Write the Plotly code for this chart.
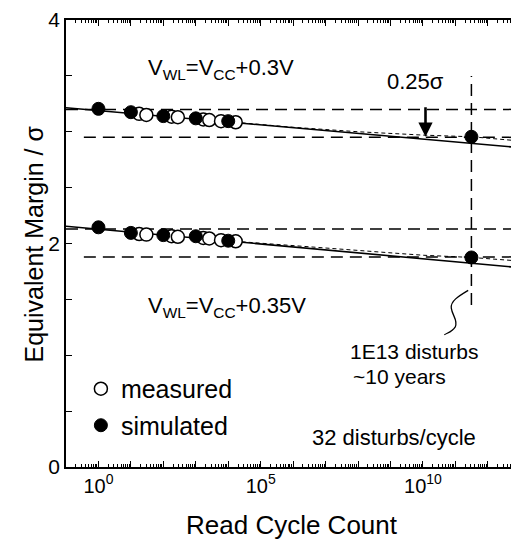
import numpy as np
import plotly.graph_objects as go

# ---------------- data ----------------
sim_x = [1, 10, 100, 1000, 10000]
sim_top = [3.205, 3.175, 3.14, 3.12, 3.095]
sim_bot = [2.145, 2.095, 2.075, 2.065, 2.025]

meas_x = [18, 30, 180, 280, 1700, 2600, 6000, 17000]
meas_top = [3.16, 3.15, 3.135, 3.13, 3.11, 3.105, 3.095, 3.085]
meas_bot = [2.085, 2.08, 2.065, 2.06, 2.05, 2.045, 2.03, 2.02]

ten_year_x = [3.125e11]
ten_year_top = [2.955]
ten_year_bot = [1.875]

fit_x = [0.1, 10**12.9]
fit_top = [3.215, 2.86]
fit_bot = [2.155, 1.786]

curve_x = [10**4.2, 1e6, 1e8, 1e10, 10**11.5, 10**12.9]
curve_top = [3.085, 3.04, 3.0, 2.97, 2.955, 2.92]
curve_bot = [2.02, 1.98, 1.935, 1.895, 1.875, 1.845]

ref_hi = [3.2, 2.13]
ref_lo = [2.95, 1.88]
ref_hi_x = [0.1, 10**12.9]
ref_lo_x = [10**-0.45, 10**12.9]
vline_y = [1.45, 3.5]

x_major = [10**k for k in range(-1, 13)]
x_labels = {0: "10<sup>0</sup>", 5: "10<sup>5</sup>", 10: "10<sup>10</sup>"}
y_ticks = [i * 0.5 for i in range(9)]
y_labels = {0: "0", 2: "2", 4: "4"}

FONT = "Liberation Sans, Arial, Helvetica, sans-serif"

fig = go.Figure()

dash_long = "12px,7px"
for yv in ref_hi:
    fig.add_trace(go.Scatter(x=ref_hi_x, y=[yv, yv], mode="lines",
                             line=dict(color="black", width=1.5, dash=dash_long),
                             showlegend=False, hoverinfo="skip"))
for yv in ref_lo:
    fig.add_trace(go.Scatter(x=ref_lo_x, y=[yv, yv], mode="lines",
                             line=dict(color="black", width=1.5, dash=dash_long),
                             showlegend=False, hoverinfo="skip"))
fig.add_trace(go.Scatter(x=ten_year_x * 2, y=vline_y, mode="lines",
                         line=dict(color="black", width=1.5, dash=dash_long),
                         showlegend=False, hoverinfo="skip"))

for fy in (fit_top, fit_bot):
    fig.add_trace(go.Scatter(x=fit_x, y=fy, mode="lines",
                             line=dict(color="black", width=1.6),
                             showlegend=False, hoverinfo="skip"))
for cy in (curve_top, curve_bot):
    fig.add_trace(go.Scatter(x=curve_x, y=cy, mode="lines",
                             line=dict(color="black", width=1, dash="4px,3px"),
                             showlegend=False, hoverinfo="skip"))

fig.add_trace(go.Scatter(x=meas_x, y=meas_top, mode="markers", name="measured",
                         marker=dict(size=13, color="white", line=dict(color="black", width=1.5)),
                         legendgroup="m"))
fig.add_trace(go.Scatter(x=meas_x, y=meas_bot, mode="markers", name="measured",
                         marker=dict(size=13, color="white", line=dict(color="black", width=1.5)),
                         legendgroup="m", showlegend=False))
fig.add_trace(go.Scatter(x=sim_x + ten_year_x, y=sim_top + ten_year_top, mode="markers",
                         name="simulated",
                         marker=dict(size=13, color="black", line=dict(color="black", width=1)),
                         legendgroup="s"))
fig.add_trace(go.Scatter(x=sim_x + ten_year_x, y=sim_bot + ten_year_bot, mode="markers",
                         name="simulated",
                         marker=dict(size=13, color="black", line=dict(color="black", width=1)),
                         legendgroup="s", showlegend=False))

ann = []
def txt(x, y, text, size, xanchor="center", xref="x", yref="y", angle=0):
    ann.append(dict(x=x, y=y, xref=xref, yref=yref, text=text, showarrow=False,
                    xanchor=xanchor, yanchor="middle", textangle=angle, borderpad=0,
                    font=dict(family=FONT, size=size, color="black")))

txt(3.79, 3.565, "V<sub>WL</sub>=V<sub>CC</sub>+0.3V", 22)
txt(3.97, 1.43, "V<sub>WL</sub>=V<sub>CC</sub>+0.35V", 22)
txt(9.78, 3.45, "0.25σ", 22)
txt(7.72, 1.035, "1E13 disturbs", 21, xanchor="left")
txt(7.8, 0.81, "~10 years", 21, xanchor="left")
txt(9.1, 0.265, "32 disturbs/cycle", 22)
txt(0.5, -0.13, "Read Cycle Count", 26, xref="paper", yref="paper")
txt(-0.071, 0.5, "Equivalent Margin / σ", 25, xref="paper", yref="paper", angle=-90)

ann.append(dict(x=10.08, y=2.955, xref="x", yref="y", ax=0, ay=-31, showarrow=True,
                arrowhead=2, arrowsize=1.1, arrowwidth=2.6, arrowcolor="black",
                standoff=0, text=""))

fig.update_layout(annotations=ann)

fig.add_shape(type="path", xref="paper", yref="paper",
              path=("M 0.8918 0.3951 C 0.8698 0.3819 0.8521 0.3709 0.8543 0.3554 "
                    "C 0.8565 0.3377 0.8698 0.3289 0.8631 0.3135 "
                    "C 0.8565 0.3024 0.8455 0.3002 0.8389 0.2958"),
              line=dict(color="black", width=1.3))

fig.update_xaxes(type="log", range=[-1, 12.9], showgrid=False, zeroline=False,
                 showline=True, linecolor="black", linewidth=1.5, mirror="ticks",
                 ticks="inside", ticklen=6, tickwidth=1.2, tickcolor="black",
                 tickmode="array", tickvals=x_major,
                 ticktext=[x_labels.get(k, "") for k in range(-1, 13)],
                 tickfont=dict(family=FONT, size=20, color="black"),
                 minor=dict(ticks="inside", ticklen=3, tickwidth=1, tickcolor="black",
                            tickmode="array",
                            tickvals=[m * 10**k for k in range(-1, 13) for m in range(2, 10)]))
fig.update_yaxes(range=[0, 4], showgrid=False, zeroline=False,
                 showline=True, linecolor="black", linewidth=1.5, mirror="ticks",
                 ticks="inside", ticklen=6, tickwidth=1.2, tickcolor="black",
                 tickmode="array", tickvals=y_ticks, ticklabeloverflow="allow",
                 ticktext=[y_labels.get(v, "") if float(v).is_integer() else "" for v in y_ticks],
                 tickfont=dict(family=FONT, size=21, color="black"))

# the page body adds an 8px offset, so the figure is 8px smaller than the window
fig.update_layout(width=511, height=537,
                  margin=dict(l=58, r=0, t=6, b=78),
                  paper_bgcolor="white", plot_bgcolor="white",
                  font=dict(family=FONT, color="black"),
                  showlegend=True,
                  legend=dict(x=0.033, y=0.226, xanchor="left", yanchor="top",
                              bgcolor="rgba(0,0,0,0)", traceorder="grouped",
                              tracegroupgap=1,
                              font=dict(family=FONT, size=25, color="black")))

fig.write_html("out.html")
